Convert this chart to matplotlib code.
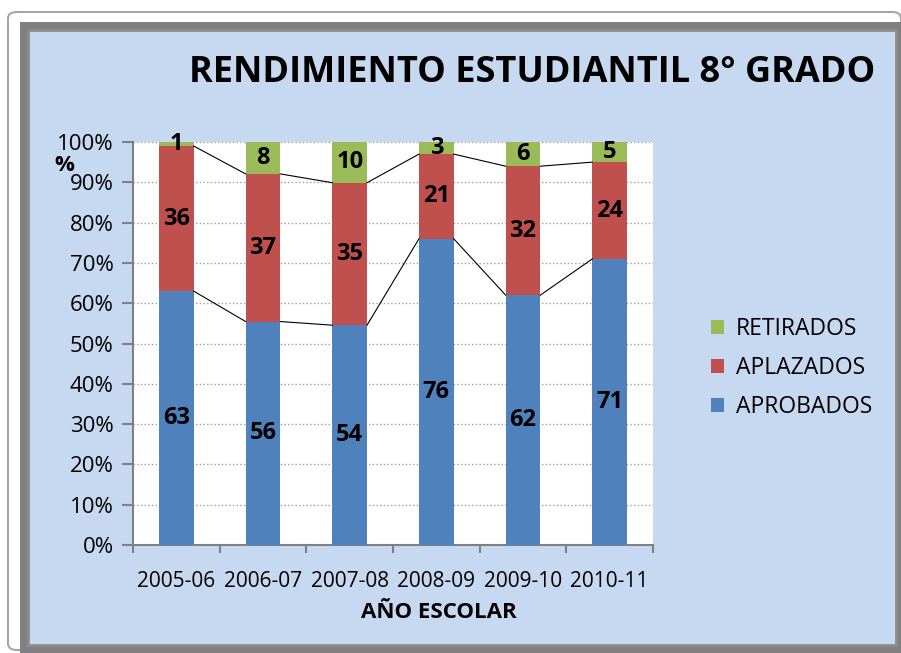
import matplotlib.pyplot as plt
import numpy as np
from matplotlib.patches import FancyBboxPatch, Rectangle

years = ['2005-06', '2006-07', '2007-08', '2008-09', '2009-10', '2010-11']
aprobados = [63, 56, 54, 76, 62, 71]
aplazados = [36, 37, 35, 21, 32, 24]
retirados = [1, 8, 10, 3, 6, 5]

plt.rcParams['font.family'] = ['Open Sans', 'DejaVu Sans']

# 100% stacked: normalise each year
raw = np.array([aprobados, aplazados, retirados], dtype=float)
pct = raw / raw.sum(axis=0) * 100
names = ['APROBADOS', 'APLAZADOS', 'RETIRADOS']
colors = ['#4F81BD', '#C0504D', '#9BBB59']

fig = plt.figure(figsize=(9.01, 6.53), dpi=100)
fig.patch.set_facecolor('white')

# outer frame (behind the axes)
fig.add_artist(FancyBboxPatch((8 / 901, 1 - 650 / 653), 893 / 901, 638 / 653,
                              boxstyle='round,pad=0,rounding_size=0.01',
                              transform=fig.transFigure, fc='white', ec='#A6A6A6', lw=1.5, zorder=-3))
fig.add_artist(Rectangle((20 / 901, 1 - 660 / 653), 890 / 901, 638 / 653,
                         transform=fig.transFigure, fc='#808080', ec='none', zorder=-2))
fig.add_artist(Rectangle((28 / 901, 1 - 645 / 653), 868 / 901, 615 / 653,
                         transform=fig.transFigure, fc='#C6D9F1', ec='#8C8C8C', lw=2, zorder=-1))

ax = fig.add_axes([133 / 901, 1 - 545 / 653, 520 / 901, 403 / 653])
x = np.arange(len(years))
w = 0.4
bottom = np.zeros(len(years))
for i in range(3):
    ax.bar(x, pct[i], w, bottom=bottom, color=colors[i], label=names[i], zorder=3)
    for j in range(len(years)):
        ax.text(x[j], bottom[j] + pct[i][j] / 2, str(int(raw[i][j])), ha='center', va='center',
                fontsize=17, fontweight='bold', zorder=5)
    bottom = bottom + pct[i]
    # series lines between bars
    if i < 2:
        for j in range(len(years) - 1):
            ax.plot([x[j] + w / 2, x[j + 1] - w / 2], [bottom[j], bottom[j + 1]],
                    color='black', lw=0.8, zorder=4)

ax.set_xlim(-0.5, len(years) - 0.5)
ax.set_ylim(0, 100)
ax.set_facecolor('white')
ax.set_yticks(np.arange(0, 101, 10))
ax.set_yticklabels([f'{v}%' for v in range(0, 101, 10)], fontsize=16)
ax.set_xticks(x)
ax.set_xticklabels(years, fontsize=15)
ax.set_xticks(np.arange(-0.5, len(years)), minor=True)
ax.tick_params(axis='x', which='major', length=0, pad=19)
ax.tick_params(axis='x', which='minor', length=6, color='#808080', width=1.5)
ax.tick_params(axis='y', length=8, color='#808080', width=1.5, pad=6)
ax.grid(axis='y', color='#A0A0A0', linestyle=':', lw=1, zorder=0)
for s in ['top', 'right']:
    ax.spines[s].set_visible(False)
for s in ['left', 'bottom']:
    ax.spines[s].set_color('#808080')
    ax.spines[s].set_linewidth(1.5)

fig.text(64 / 901, 1 - 166 / 653, '%', fontsize=16, fontweight='bold', ha='center', va='center')
fig.text(439 / 901, 1 - 613 / 653, 'AÑO ESCOLAR', fontsize=16, fontweight='bold', ha='center', va='center')
fig.text(532 / 901, 1 - 73 / 653, 'RENDIMIENTO ESTUDIANTIL 8° GRADO', fontsize=26, fontweight='bold',
         ha='center', va='center')

handles, labels = ax.get_legend_handles_labels()
fig.legend(handles[::-1], labels[::-1], loc='center left', bbox_to_anchor=(690 / 901, 1 - 368 / 653),
           frameon=False, fontsize=16.5, handlelength=0.6, handleheight=0.6, labelspacing=0.65,
           handletextpad=0.5)

fig.savefig('out.png', dpi=100)
